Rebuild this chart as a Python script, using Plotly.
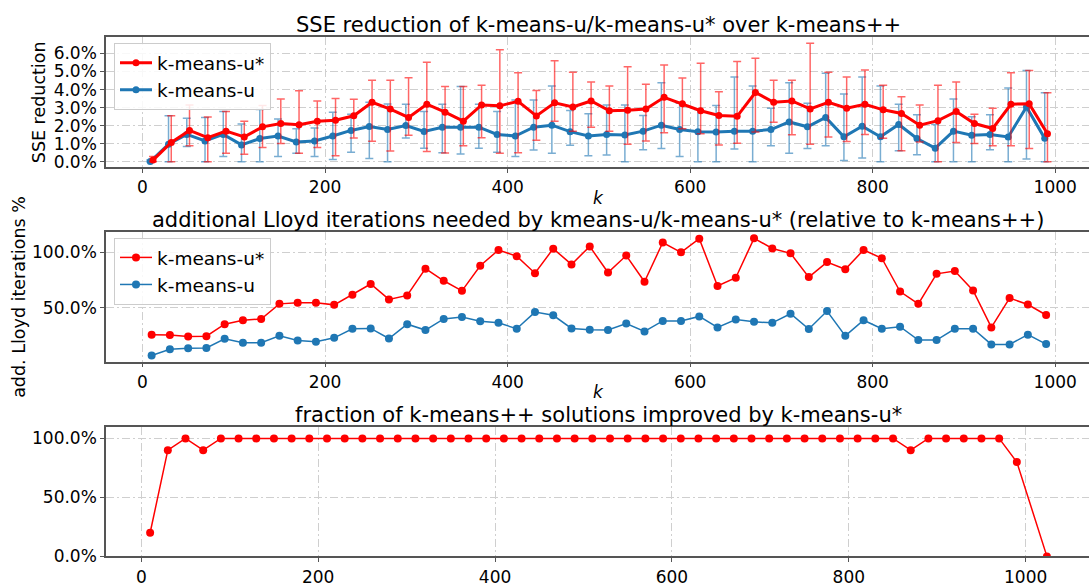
import plotly.graph_objects as go

# ---- data -------------------------------------------------------------
k_values = [10, 30, 50, 70, 90, 110, 130, 150, 170, 190, 210, 230, 250, 270, 290,
            310, 330, 350, 370, 390, 410, 430, 450, 470, 490, 510, 530, 550, 570, 590,
            610, 630, 650, 670, 690, 710, 730, 750, 770, 790, 810, 830, 850, 870, 890,
            910, 930, 950, 970, 990]

# SSE reduction (%) : mean, upper and lower end of the spread
sse_ustar = [0.10, 1.07, 1.74, 1.34, 1.70, 1.38, 1.94, 2.12, 2.05, 2.25, 2.30, 2.55, 3.30, 2.92, 2.46,
             3.19, 2.75, 2.25, 3.15, 3.10, 3.35, 2.54, 3.27, 3.04, 3.37, 2.83, 2.86, 2.93, 3.57, 3.21,
             2.83, 2.57, 2.52, 3.84, 3.30, 3.37, 2.93, 3.30, 2.97, 3.19, 2.88, 2.68, 2.03, 2.28, 2.79,
             2.12, 1.85, 3.19, 3.21, 1.56]
sse_ustar_hi = [0.29, 2.55, 3.15, 2.48, 2.79, 2.25, 3.12, 3.48, 3.93, 3.37, 3.51, 3.46, 4.51, 4.51, 4.66,
                5.51, 4.17, 4.17, 4.24, 6.20, 4.93, 3.95, 5.60, 4.96, 4.42, 4.20, 5.27, 4.29, 5.36, 4.64,
                5.45, 3.88, 5.56, 5.74, 4.51, 4.51, 6.56, 4.96, 4.69, 5.09, 4.24, 3.61, 3.15, 4.24, 4.42,
                2.64, 2.97, 4.93, 5.05, 3.82]
sse_ustar_lo = [0.00, 0.00, 0.89, 0.00, 0.47, 0.42, 0.80, 1.01, 0.47, 0.80, 0.34, 1.32, 1.14, 0.60, 1.47,
                0.58, 0.49, 0.89, 1.34, 0.47, 0.51, 1.20, 2.25, 1.70, 1.92, 1.70, 0.98, 1.16, 1.61, 1.83,
                1.56, 0.94, 1.03, 1.65, 2.19, 1.50, 0.98, 1.38, 1.12, 1.52, 1.30, 0.62, 1.10, 0.00, 1.07,
                1.01, 0.89, 0.89, 0.74, 0.00]

sse_u = [0.02, 0.98, 1.52, 1.16, 1.52, 0.94, 1.29, 1.43, 1.10, 1.16, 1.43, 1.74, 1.96, 1.79, 2.01,
         1.68, 1.92, 1.92, 1.92, 1.52, 1.43, 1.92, 2.03, 1.67, 1.43, 1.52, 1.49, 1.70, 2.03, 1.79,
         1.67, 1.65, 1.70, 1.70, 1.79, 2.21, 1.94, 2.46, 1.39, 1.97, 1.39, 2.07, 1.29, 0.76, 1.70,
         1.47, 1.52, 1.38, 3.04, 1.30]
sse_u_hi = [0.10, 2.55, 2.41, 2.46, 2.79, 2.10, 2.90, 2.37, 1.83, 1.88, 2.74, 2.64, 3.30, 3.20, 3.19,
            2.79, 3.19, 4.17, 3.19, 2.79, 3.42, 3.42, 4.20, 2.84, 2.66, 3.15, 3.15, 2.57, 4.38, 3.24,
            2.90, 3.12, 4.69, 4.20, 2.97, 4.38, 3.24, 4.91, 3.75, 4.69, 4.20, 3.19, 2.61, 2.07, 3.48,
            2.50, 2.61, 4.09, 5.05, 3.82]
sse_u_lo = [0.00, 0.00, 0.85, 0.00, 0.29, 0.00, 0.00, 0.29, 0.47, 0.29, 0.13, 0.53, 0.18, 0.00, 1.32,
            0.76, 0.51, 0.43, 0.76, 0.53, 0.29, 0.65, 0.47, 0.92, 0.34, 0.38, 0.00, 0.67, 0.74, 0.29,
            0.00, 0.00, 0.71, 0.00, 0.89, 0.47, 0.74, 0.89, 0.07, 0.22, 0.00, 0.62, 0.40, 0.00, 0.00,
            0.00, 0.67, 0.00, 0.16, 0.00]

# additional Lloyd iterations (%)
iter_ustar = [25.9, 25.6, 24.2, 24.5, 35.3, 38.9, 40.0, 53.6, 54.7, 54.7, 52.7, 61.8, 71.5, 57.6, 61.2,
              85.3, 74.4, 65.3, 87.9, 102.1, 96.5, 81.2, 103.3, 89.1, 105.3, 81.8, 97.1, 73.5, 108.8, 100.0,
              112.3, 69.7, 77.1, 112.6, 103.5, 99.1, 77.7, 91.2, 84.7, 102.1, 94.7, 64.7, 53.6, 80.6, 83.2,
              65.6, 32.4, 58.8, 53.0, 43.6]
iter_u = [7.1, 12.7, 13.6, 13.9, 22.1, 18.6, 18.6, 24.8, 20.7, 19.5, 23.0, 31.2, 31.5, 22.4, 35.3,
          30.0, 40.0, 41.8, 38.0, 36.5, 31.2, 46.2, 43.3, 31.5, 30.3, 30.0, 35.9, 28.8, 38.2, 38.2,
          42.3, 32.4, 39.5, 37.4, 36.5, 44.7, 30.9, 47.1, 24.8, 38.9, 31.2, 33.0, 21.0, 21.0, 31.2,
          31.2, 17.1, 17.1, 25.9, 17.4]

# fraction of improved solutions (%)
frac_k = k_values + [1024]
frac_improved = [20, 90, 100, 90, 100, 100, 100, 100, 100, 100, 100, 100, 100, 100, 100,
                 100, 100, 100, 100, 100, 100, 100, 100, 100, 100, 100, 100, 100, 100, 100,
                 100, 100, 100, 100, 100, 100, 100, 100, 100, 100, 100, 100, 100, 90, 100,
                 100, 100, 100, 100, 80, 0]

# ---- styling ------------------------------------------------------------
RED = "#ff0000"
BLUE = "#1f77b4"
FONT = "DejaVu Sans"
W, H = 1089, 588

# the two top series are nudged apart horizontally so the error bars stay readable
x_ustar = [k + 1.5 for k in k_values]
x_u = [k - 1.5 for k in k_values]

fig = go.Figure()

fig.add_trace(go.Scatter(
    x=x_u, y=sse_u, mode="lines+markers", name="k-means-u",
    line=dict(color=BLUE, width=3), marker=dict(color=BLUE, size=7),
    error_y=dict(type="data", symmetric=False,
                 array=[h - v for h, v in zip(sse_u_hi, sse_u)],
                 arrayminus=[v - l for v, l in zip(sse_u, sse_u_lo)],
                 color="rgba(31,119,180,0.6)", thickness=1.5, width=4),
    xaxis="x", yaxis="y", legend="legend", legendrank=2))
fig.add_trace(go.Scatter(
    x=x_ustar, y=sse_ustar, mode="lines+markers", name="k-means-u*",
    line=dict(color=RED, width=3), marker=dict(color=RED, size=7),
    error_y=dict(type="data", symmetric=False,
                 array=[h - v for h, v in zip(sse_ustar_hi, sse_ustar)],
                 arrayminus=[v - l for v, l in zip(sse_ustar, sse_ustar_lo)],
                 color="rgba(255,0,0,0.6)", thickness=1.5, width=4),
    xaxis="x", yaxis="y", legend="legend", legendrank=1))

fig.add_trace(go.Scatter(
    x=k_values, y=iter_u, mode="lines+markers", name="k-means-u",
    line=dict(color=BLUE, width=1.5), marker=dict(color=BLUE, size=8),
    xaxis="x2", yaxis="y2", legend="legend2", legendrank=2))
fig.add_trace(go.Scatter(
    x=k_values, y=iter_ustar, mode="lines+markers", name="k-means-u*",
    line=dict(color=RED, width=1.5), marker=dict(color=RED, size=8),
    xaxis="x2", yaxis="y2", legend="legend2", legendrank=1))

fig.add_trace(go.Scatter(
    x=frac_k, y=frac_improved, mode="lines+markers", name="k-means-u*",
    line=dict(color=RED, width=1.5), marker=dict(color=RED, size=8),
    xaxis="x3", yaxis="y3", showlegend=False))


def px_x(px):
    return px / W


def px_y(py):
    return 1 - py / H


grid = dict(showgrid=True, gridcolor="#cfcfcf", gridwidth=1, griddash="8px,3px,2px,3px")
axis_common = dict(showline=True, linecolor="#555555", linewidth=1.5,
                   ticks="outside", ticklen=4, tickwidth=1.2, tickcolor="#555555",
                   tickfont=dict(family=FONT, size=17, color="black"),
                   zeroline=False, **grid)

x_dom = [px_x(106), 1.0]
xticks = dict(tickmode="array", tickvals=[0, 200, 400, 600, 800, 1000])

layout = dict(
    width=W, height=H, margin=dict(l=0, r=0, t=0, b=0),
    paper_bgcolor="white", plot_bgcolor="white",
    font=dict(family=FONT, size=17, color="black"),
    xaxis=dict(domain=x_dom, range=[-40, 1037], anchor="y", mirror=True, **xticks, **axis_common),
    yaxis=dict(domain=[px_y(170), px_y(38)], range=[-0.29, 6.89], anchor="x",
               tickmode="array", tickvals=[0, 1, 2, 3, 4, 5, 6],
               ticktext=[f"{v:.1f}%" for v in [0, 1, 2, 3, 4, 5, 6]], **axis_common),
    xaxis2=dict(domain=x_dom, range=[-40, 1037], anchor="y2", mirror=True, **xticks, **axis_common),
    yaxis2=dict(domain=[px_y(368), px_y(236)], range=[1.5, 118.3], anchor="x2",
                tickmode="array", tickvals=[50, 100], ticktext=["50.0%", "100.0%"], **axis_common),
    xaxis3=dict(domain=x_dom, range=[-39.9, 1071.6], anchor="y3", mirror=True, **xticks, **axis_common),
    yaxis3=dict(domain=[px_y(566), px_y(434)], range=[0, 110], anchor="x3",
                tickmode="array", tickvals=[0, 50, 100], ticktext=["0.0%", "50.0%", "100.0%"],
                **axis_common),
)

legend_style = dict(bgcolor="rgba(255,255,255,0.85)", bordercolor="#cccccc", borderwidth=1,
                    font=dict(family=FONT, size=18.5, color="black"),
                    xanchor="left", yanchor="top", itemwidth=32, tracegroupgap=0)
layout["legend"] = dict(x=px_x(114), y=px_y(44), **legend_style)
layout["legend2"] = dict(x=px_x(114), y=px_y(242), **legend_style)

titles = [
    ("SSE reduction of k-means-u/k-means-u* over k-means++", 38),
    ("additional Lloyd iterations needed by kmeans-u/k-means-u* (relative to k-means++)", 236),
    ("fraction of k-means++ solutions improved by k-means-u*", 434),
]
annotations = []
xc = px_x((106 + 1090) / 2)
for text, top in titles:
    annotations.append(dict(text=text, x=xc, y=px_y(top), xref="paper", yref="paper",
                            xanchor="center", yanchor="bottom", yshift=-2, showarrow=False,
                            font=dict(family=FONT, size=21, color="black")))
for yc in (201, 399):
    annotations.append(dict(text="<i>k</i>", x=xc, y=px_y(yc), xref="paper", yref="paper",
                            xanchor="center", yanchor="middle", showarrow=False,
                            font=dict(family=FONT, size=17, color="black")))
annotations.append(dict(text="SSE reduction", x=px_x(39), y=px_y(104), xref="paper", yref="paper",
                        xanchor="center", yanchor="middle", textangle=-90, showarrow=False,
                        font=dict(family=FONT, size=17.5, color="black")))
annotations.append(dict(text="add. Lloyd iterations %", x=px_x(19), y=px_y(302), xref="paper",
                        yref="paper", xanchor="center", yanchor="middle", textangle=-90,
                        showarrow=False, font=dict(family=FONT, size=17.5, color="black")))
layout["annotations"] = annotations

fig.update_layout(**layout)
fig.write_html("out.html")
